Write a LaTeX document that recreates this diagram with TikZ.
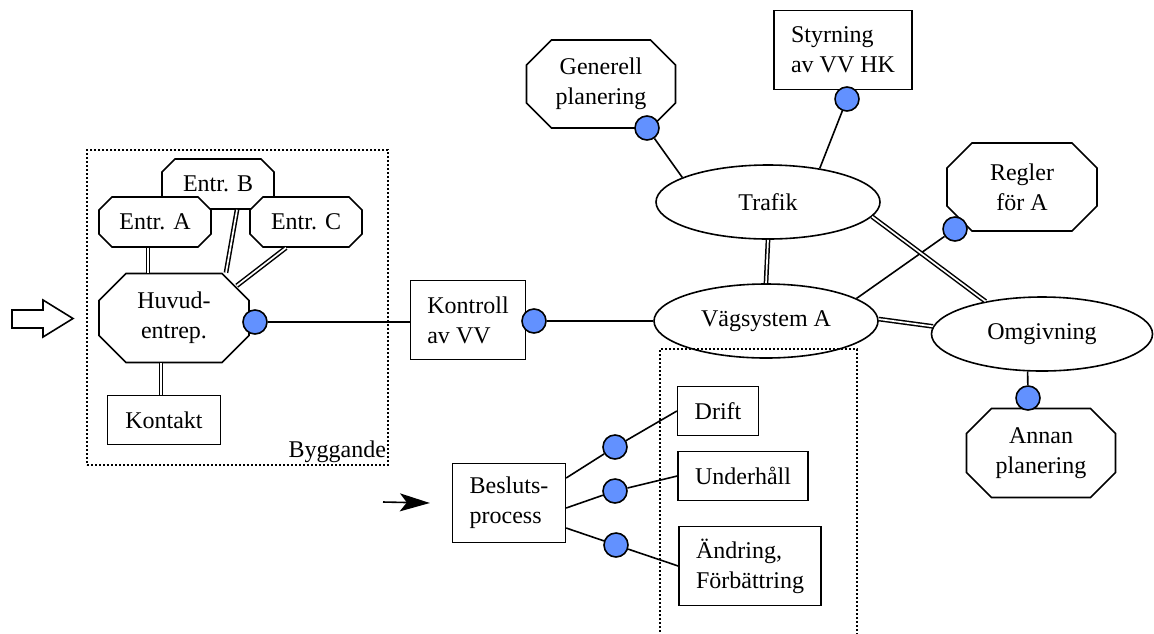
\documentclass[tikz,border=0pt]{standalone}
\usepackage{fontspec}
\setmainfont{Liberation Serif}
\usetikzlibrary{shapes.geometric,arrows.meta}
\definecolor{dotblue}{RGB}{98,145,255}

% octagon node: name, x, y, half width, half height, cut (px), text
\newcommand\octnode[7]{%
	\draw[fill=white] (#2-#4+#6,#3-#5) -- (#2+#4-#6,#3-#5) -- (#2+#4,#3-#5+#6)
		-- (#2+#4,#3+#5-#6) -- (#2+#4-#6,#3+#5) -- (#2-#4+#6,#3+#5)
		-- (#2-#4,#3+#5-#6) -- (#2-#4,#3-#5+#6) -- cycle;
	\node[octa,minimum width=#4pt,minimum height=#5pt] (#1) at (#2,#3) {#7};}

\begin{document}
\begin{tikzpicture}[x=0.5pt,y=-0.5pt,line width=0.8pt,
	every node/.style={font=\rmfamily\fontsize{12}{15}\selectfont},
	box/.style={draw,fill=white,rectangle,align=left,inner xsep=8.5pt,minimum height=24.5pt},
	octa/.style={rectangle,align=center,inner sep=0pt},
	oval/.style={draw,fill=white,ellipse,inner sep=0pt,minimum width=112pt,minimum height=37pt},
	dot/.style={draw,fill=dotblue,circle,inner sep=0pt,minimum size=12pt},
	dbl/.style={double,line width=0.75pt,double distance=0.85pt},
	frame/.style={line width=0.8pt,dash pattern=on 0.8pt off 1.2pt}]

	%\draw[help lines] (0,0) grid[step=50] (1154,633);
	\useasboundingbox (0,0) rectangle (1154,633);

	% Byggande
	\node[frame,draw,minimum width=150.5pt,minimum height=157.5pt] (bygg) at (237.5,307.5) {};
	\node[anchor=south east,inner sep=1pt] (byggtext) at (bygg.south east) {Byggande};

	\octnode{entrB}{218}{184}{56}{25}{13}{Entr. B}
	\octnode{entrA}{155}{222}{56}{25}{13}{Entr. A}
	\octnode{entrC}{306}{222}{56}{25}{13}{Entr. C}
	\octnode{huvud}{174}{318}{75}{44.5}{27}{Huvud-\\entrep.}
	\node[box,minimum width=56.5pt] (kontakt) at (164,420) {Kontakt};

	\draw[dbl] ([xshift=-3.5pt]entrA.south) -- ([xshift=-3.5pt]entrA.south |- huvud.north);
	\draw[dbl] ([xshift=9.5pt]entrB.south) -- ([xshift=26pt]huvud.north);
	\draw[dbl] ([xshift=-10pt]entrC.south) -- ([xshift=-6.5pt,yshift=-6.5pt]huvud.north east);
	\draw[dbl] ([xshift=-1.5pt]kontakt.north) -- ([xshift=-1.5pt]kontakt.north |- huvud.south);

	\node[dot] (hdot) at (255,322) {};

	% hollow arrow
	\draw (12,310) -- (43,310) -- (43,300) -- (73,318.5) -- (43,337) -- (43,328) -- (12,328) -- cycle;

	% middle
	\node[box,minimum height=39.5pt] (kontroll) at (468,320) {Kontroll\\av VV};
	\node[dot] (kdot) at (534,321) {};
	\draw (hdot) -- (hdot -| kontroll.west);

	\node[oval] (trafik) at (768,202) {Trafik};
	\node[oval] (vag) at (766,321) {Vägsystem A};
	\node[oval,minimum width=110.5pt] (omg) at (1042,334) {Omgivning};
	\draw (kdot) -- (kdot -| vag.west);

	\octnode{generell}{601}{84}{74.5}{44}{25}{Generell\\planering}
	\node[box,minimum height=39.5pt] (styrning) at (843,50) {Styrning\\av VV HK};
	\octnode{regler}{1022}{187}{75}{44}{25}{Regler\\för A}
	\octnode{annan}{1041}{453}{74.5}{44.5}{25}{Annan\\planering}

	\node[dot] (gdot) at (647,128) {};
	\node[dot] (sdot) at (847,99) {};
	\node[dot] (rdot) at (955,229) {};
	\node[dot] (adot) at (1028,398) {};

	\draw (gdot) -- (trafik.164);
	\draw (sdot) -- (trafik.33);
	\draw (rdot) -- (vag.14);
	\draw (adot) -- (omg.249);

	\draw[dbl] (trafik.south) -- (vag.north);
	\draw[dbl] (trafik.-8) -- (omg.150);
	\draw[dbl] (vag.1) -- (omg.176);

	% beslut
	\node[box,minimum height=39.5pt] (beslut) at (509,503) {Besluts-\\process};
	\node[box] (drift) at (718,411) {Drift};
	\node[box] (underhall) at (743,476) {Underhåll};
	\node[box,minimum height=39.5pt] (andring) at (750,566) {Ändring,\\Förbättring};

	\node[dot] (d1) at (615,447) {};
	\node[dot] (d2) at (615,491) {};
	\node[dot] (d3) at (616,545) {};

	\foreach \dy/\d/\t in {12.5/d1/drift,-2.5/d2/underhall,-12.5/d3/andring} {
		\draw ([yshift=\dy pt]beslut.east) -- (\d) -- (\t.west);
	}

	\coordinate (start) at (383,502);
	\draw[-{Stealth[length=15pt,width=9pt,inset=3.5pt]}] (start) -- ([xshift=-11pt]beslut.west);

	\draw[frame] (660,640) -- (660,349) -- (857,349) -- (857,640);

\end{tikzpicture}
\end{document}
